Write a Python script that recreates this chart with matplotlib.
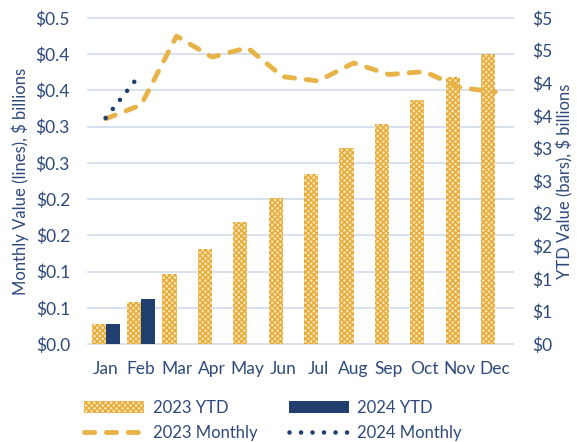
import math
import matplotlib
matplotlib.use("Agg")
import matplotlib.pyplot as plt
from matplotlib.patches import Patch
from matplotlib.lines import Line2D
from matplotlib.ticker import FuncFormatter, MultipleLocator
from matplotlib.transforms import blended_transform_factory
import numpy as np

months = ["Jan", "Feb", "Mar", "Apr", "May", "Jun", "Jul", "Aug", "Sep", "Oct", "Nov", "Dec"]
ytd_2023 = [0.31, 0.64, 1.07, 1.46, 1.87, 2.24, 2.61, 3.00, 3.37, 3.74, 4.09, 4.45]
ytd_2024 = [0.31, 0.69]
monthly_2023 = [0.311, 0.330, 0.425, 0.396, 0.409, 0.369, 0.363, 0.388, 0.372, 0.376, 0.354, 0.348]
monthly_2024 = [0.312, 0.374]

GOLD = "#E8B44A"
GOLD_DARK = "#E6A935"
FACE = "#F8E3B0"
NAVY = "#203F6E"
TEXT = "#2E4A7C"
GRID = "#D6DEEE"

plt.rcParams['font.family'] = ['Lato', 'DejaVu Sans']
plt.rcParams['hatch.linewidth'] = 1.0

fig = plt.figure(figsize=(5.77, 4.42), dpi=100)
L, R, T, B = 88/577, 513/577, 1-18/442, 1-344/442
axb = fig.add_axes([L, B, R-L, T-B])
axl = axb.twinx()

x = np.arange(len(months))
w = 0.4
axb.bar(x - w/2, ytd_2023, width=w, facecolor=FACE, edgecolor=GOLD_DARK,
        hatch="xxxxxx", linewidth=0, zorder=2)
axb.bar(x[:len(ytd_2024)] + w/2, ytd_2024, width=w, color=NAVY, linewidth=0, zorder=2)

DOTS = (0, (0.01, 2.5))
axl.plot(x, monthly_2023, color=GOLD, lw=3.5, linestyle=(0, (2.1, 2.4)),
         dash_capstyle='round', solid_capstyle='round', zorder=3)
axl.plot(x[:len(monthly_2024)], monthly_2024, color=NAVY, lw=3.3,
         linestyle=DOTS, dash_capstyle='round', zorder=4)

axb.set_xlim(-0.5, 11.5)
axb.set_ylim(0, 5)
axl.set_ylim(0, 0.45)

# gridlines follow left axis ticks
trans = blended_transform_factory(axb.transAxes, axl.transData)
for v in np.arange(0, 0.451, 0.05):
    axb.plot([0, 1], [v, v], transform=trans, color=GRID, lw=1.3, zorder=0.5, clip_on=False)

axl.yaxis.set_major_locator(MultipleLocator(0.05))
axb.yaxis.set_major_locator(MultipleLocator(0.5))
axl.yaxis.set_major_formatter(FuncFormatter(lambda v, p: "$%.1f" % (math.floor(v*10 + 0.5 + 1e-9)/10)))
axb.yaxis.set_major_formatter(FuncFormatter(lambda v, p: "$%d" % math.floor(v + 0.5 + 1e-9)))

axl.yaxis.tick_left()
axl.yaxis.set_label_position('left')
axb.yaxis.tick_right()
axb.yaxis.set_label_position('right')

for a in (axb, axl):
    for s in a.spines.values():
        s.set_visible(False)
    a.tick_params(length=0, labelsize=12.5, labelcolor=TEXT)

axb.set_xticks(x)
axb.set_xticklabels(months)
axb.tick_params(axis='x', pad=12)
axl.tick_params(axis='y', pad=13)
axb.tick_params(axis='y', pad=14)

axl.set_ylabel("Monthly Value (lines), $ billions", fontsize=12, color=TEXT, labelpad=5)
axb.set_ylabel("YTD Value (bars), $ billions", fontsize=12, color=TEXT, labelpad=3, rotation=90)

handles = [
    Patch(facecolor=FACE, edgecolor=GOLD_DARK, hatch="xxxxxx", linewidth=0),
    Line2D([], [], color=GOLD, lw=3.5, linestyle=(0, (2.1, 2.4)), dash_capstyle='round'),
    Patch(facecolor=NAVY, linewidth=0),
    Line2D([], [], color=NAVY, lw=3.3, linestyle=DOTS, dash_capstyle='round'),
]
labels = ["2023 YTD", "2023 Monthly", "2024 YTD", "2024 Monthly"]
leg = fig.legend(handles, labels, ncol=2, loc='lower left', bbox_to_anchor=(0.12, -0.032),
                 frameon=False, fontsize=12, handlelength=3.6, handleheight=0.7,
                 handletextpad=0.5, columnspacing=1.9, labelspacing=0.55)
for t in leg.get_texts():
    t.set_color(TEXT)

fig.savefig("out.png", dpi=100)
